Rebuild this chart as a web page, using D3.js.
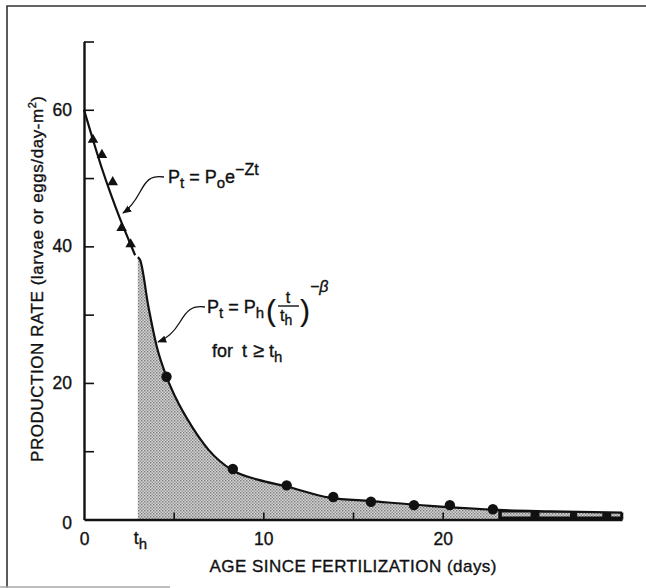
<!DOCTYPE html>
<html><head><meta charset="utf-8">
<script src="https://cdn.jsdelivr.net/npm/d3@7"></script>
<style>
html,body{margin:0;padding:0;background:#fff;}
svg{display:block;font-family:"Liberation Sans",Arial,Helvetica,sans-serif;}
svg text{stroke:#111;stroke-width:0.35px;}
</style></head>
<body><svg id="c" width="646" height="588"></svg>
<script>
// ---- data ----
const triangleT = [0.5, 1.0, 1.6, 2.1, 2.6];
const triangleP = [55.6, 53.4, 49.4, 42.7, 40.3];
const circleT = [4.6, 8.3, 11.3, 13.9, 16.0, 18.4, 20.4, 22.8];
const circleP = [20.9, 7.4, 5.0, 3.3, 2.6, 2.1, 2.1, 1.5];
const expCurveT = [0, 0.5, 1.0, 1.5, 2.0, 2.5, 2.85];
const expCurveP = [60, 55.6, 51.4, 47.6, 44.1, 40.9, 38.7];
const powCurveT = [3.0, 3.13, 3.59, 4.06, 4.53, 5.08, 6.02, 6.95, 8.25, 9.74, 11.2, 13.7, 16.0, 19.3, 23.1, 26.0, 30.0];
const powCurveP = [38.4, 38.0, 31.2, 25.3, 21.4, 18.0, 13.6, 10.2, 7.25, 5.8, 4.9, 3.2, 2.7, 2.0, 1.4, 1.2, 1.0];
const tH = 3;
const yTicks = [10, 20, 30, 40, 50, 60, 70];
const yTickLabels = {0: "0", 20: "20", 40: "40", 60: "60"};
const xTicks = [0, 5, 10, 15, 20, 25, 30];
const xTickLabels = {0: "0", 10: "10", 20: "20"};
const xTitle = "AGE SINCE FERTILIZATION (days)";
const yTitle = "PRODUCTION RATE (larvae or eggs/day-m";

// ---- layout ----
const svg = d3.select("#c");
const x = d3.scaleLinear().domain([0, 30]).range([84, 622]);
const y = d3.scaleLinear().domain([0, 70]).range([519.5, 41.5]);
const ink = "#111";

// frame
svg.append("path").attr("d", "M7,588 L7,6 L646,6").attr("fill", "none").attr("stroke", "#333").attr("stroke-width", 1.6);
svg.append("line").attr("x1", 0).attr("x2", 170).attr("y1", 587).attr("y2", 587).attr("stroke", "#aaa").attr("stroke-width", 1.5);

// stipple pattern
const defs = svg.append("defs");
const pat = defs.append("pattern").attr("id", "stip").attr("width", 3).attr("height", 3).attr("patternUnits", "userSpaceOnUse");
pat.append("rect").attr("width", 3).attr("height", 3).attr("fill", "#d6d6d6");
pat.append("rect").attr("x", 0).attr("y", 0).attr("width", 1.4).attr("height", 1.4).attr("fill", "#7a7a7a");
pat.append("rect").attr("x", 1.5).attr("y", 1.5).attr("width", 1.4).attr("height", 1.4).attr("fill", "#8a8a8a");
defs.append("marker").attr("id", "arr").attr("viewBox", "0 0 10 10").attr("refX", 9).attr("refY", 5)
  .attr("markerWidth", 7).attr("markerHeight", 7).attr("orient", "auto")
  .append("path").attr("d", "M0,1 L10,5 L0,9 Z").attr("fill", ink);

const powData = powCurveT.map((t, i) => ({t, p: powCurveP[i]}));
const expData = expCurveT.map((t, i) => ({t, p: expCurveP[i]}));

// shaded area under power-law curve
const area = d3.area().x(d => x(d.t)).y0(y(0)).y1(d => y(d.p)).curve(d3.curveMonotoneX);
svg.append("path").datum(powData).attr("d", area).attr("fill", "url(#stip)");

// dark band at far right bottom (print artefact in reference)
const bandData = powData.filter(d => d.t >= 23.1);
svg.append("path").datum(bandData).attr("d", area).attr("fill", "#111");
const lightSegs = [[23.3, 24.9], [25.4, 27.1], [27.5, 28.9], [29.4, 29.9]];
lightSegs.forEach(s => {
  svg.append("rect").attr("x", x(s[0])).attr("width", x(s[1]) - x(s[0]))
    .attr("y", y(0) - 7).attr("height", 4).attr("fill", "url(#stip)");
});

// curves
const line = d3.line().x(d => x(d.t)).y(d => y(d.p)).curve(d3.curveMonotoneX);
svg.append("path").datum(expData).attr("d", line).attr("fill", "none").attr("stroke", ink).attr("stroke-width", 2.2);
svg.append("path").datum(powData).attr("d", line).attr("fill", "none").attr("stroke", ink).attr("stroke-width", 2.2);

// axes
const yAxis = d3.axisLeft(y).tickValues([0].concat(yTicks)).tickSizeInner(-10).tickSizeOuter(0).tickPadding(12)
  .tickFormat(d => yTickLabels[d] || "");
const gy = svg.append("g").attr("transform", `translate(${x(0)},0)`).call(yAxis);
const xAxis = d3.axisBottom(x).tickValues(xTicks).tickSizeInner(-7).tickSizeOuter(0).tickPadding(13)
  .tickFormat(d => xTickLabels[d] || "");
const gx = svg.append("g").attr("transform", `translate(0,${y(0)})`).call(xAxis);
[gx, gy].forEach(g => {
  g.select(".domain").attr("stroke", ink).attr("stroke-width", 2.4);
  g.selectAll(".tick line").attr("stroke", ink).attr("stroke-width", 1.6);
  g.selectAll("text").attr("fill", ink).attr("font-size", 17.5).attr("font-family", "Liberation Sans, Arial, sans-serif");
});
gx.selectAll(".tick").filter(d => d === 0).select("line").remove();
gy.selectAll(".tick").filter(d => d === 0).select("line").remove();
gy.selectAll(".tick").filter(d => d === 0).select("text").attr("dy", "0.5em");

// t_h label
const thl = svg.append("text").attr("x", x(tH) - 4).attr("y", 544).attr("font-size", 17.5).attr("fill", ink);
thl.append("tspan").text("t");
thl.append("tspan").attr("font-size", 15).attr("dy", 5).text("h");

// markers
const tri = d3.symbol().type(d3.symbolTriangle).size(48);
svg.selectAll(".tri").data(triangleT).enter().append("path")
  .attr("transform", (d, i) => `translate(${x(d)},${y(triangleP[i])})`).attr("d", tri).attr("fill", ink);
svg.selectAll(".cir").data(circleT).enter().append("circle")
  .attr("cx", d => x(d)).attr("cy", (d, i) => y(circleP[i])).attr("r", 5.2).attr("fill", ink);

// axis titles
svg.append("text").attr("x", 353).attr("y", 572).attr("text-anchor", "middle").attr("font-size", 17)
  .attr("textLength", 287).attr("lengthAdjust", "spacing").attr("fill", ink).text(xTitle);
const yt = svg.append("text").attr("transform", "translate(43,279) rotate(-90)").attr("text-anchor", "middle")
  .attr("font-size", 17).attr("textLength", 366).attr("lengthAdjust", "spacing").attr("fill", ink);
yt.append("tspan").text(yTitle);
yt.append("tspan").attr("font-size", 11).attr("dy", -7).text("2");
yt.append("tspan").attr("dy", 7).text(")");

// formula 1
const f1 = svg.append("text").attr("x", 168).attr("y", 183).attr("font-size", 18).attr("fill", ink);
f1.append("tspan").text("P");
f1.append("tspan").attr("font-size", 15).attr("dy", 5).text("t");
f1.append("tspan").attr("dy", -5).text(" = P");
f1.append("tspan").attr("font-size", 15).attr("dy", 5).text("o");
f1.append("tspan").attr("dy", -5).text("e");
f1.append("tspan").attr("font-size", 16).attr("dy", -8).text("\u2212Zt");
svg.append("path").attr("d", "M164,177 C150,175 146,181 140,192 C134,203 129,209 123,213")
  .attr("fill", "none").attr("stroke", ink).attr("stroke-width", 1.3).attr("marker-end", "url(#arr)");

// formula 2
const f2 = svg.append("text").attr("x", 207).attr("y", 313).attr("font-size", 18).attr("fill", ink);
f2.append("tspan").text("P");
f2.append("tspan").attr("font-size", 15).attr("dy", 5).text("t");
f2.append("tspan").attr("dy", -5).text(" = P");
f2.append("tspan").attr("font-size", 15).attr("dy", 5).text("h");
svg.append("text").attr("x", 266).attr("y", 321).attr("font-size", 30).attr("fill", ink).style("stroke-width", "0.2px").text("(");
svg.append("text").attr("x", 300).attr("y", 321).attr("font-size", 30).attr("fill", ink).style("stroke-width", "0.2px").text(")");
svg.append("text").attr("x", 288).attr("y", 303).attr("text-anchor", "middle").attr("font-size", 16).attr("fill", ink).text("t");
svg.append("line").attr("x1", 278).attr("x2", 299).attr("y1", 306).attr("y2", 306).attr("stroke", ink).attr("stroke-width", 1.4);
const den = svg.append("text").attr("x", 280).attr("y", 321).attr("font-size", 16).attr("fill", ink);
den.append("tspan").text("t");
den.append("tspan").attr("font-size", 14).attr("dy", 4).text("h");
svg.append("text").attr("x", 310).attr("y", 292).attr("font-size", 16).attr("fill", ink).attr("font-style", "italic").text("\u2212\u03B2");
const f3 = svg.append("text").attr("x", 212).attr("y", 357).attr("font-size", 18).attr("fill", ink);
f3.append("tspan").text("for");
f3.append("tspan").attr("dx", 9).text("t");
f3.append("tspan").attr("dx", 6).attr("font-size", 20).text("\u2265");
f3.append("tspan").attr("dx", 5).text("t");
f3.append("tspan").attr("font-size", 15).attr("dy", 5).text("h");
svg.append("path").attr("d", "M205,307 C191,305 186,312 180,322 C174,332 166,339 158,342")
  .attr("fill", "none").attr("stroke", ink).attr("stroke-width", 1.3).attr("marker-end", "url(#arr)");
</script></body></html>
